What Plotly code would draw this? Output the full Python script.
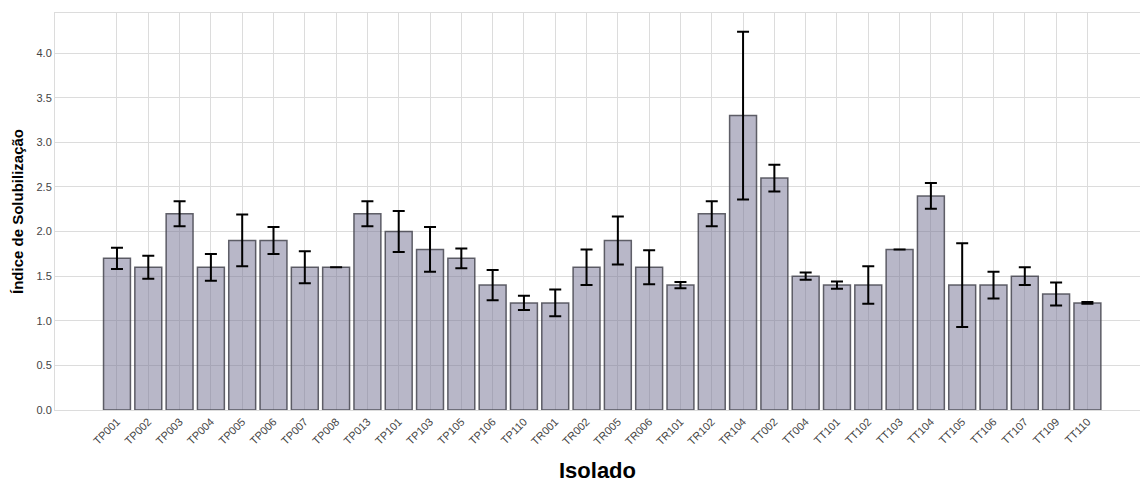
import plotly.graph_objects as go

categories = ["TP001", "TP002", "TP003", "TP004", "TP005", "TP006", "TP007", "TP008",
              "TP013", "TP101", "TP103", "TP105", "TP106", "TP110", "TR001", "TR002",
              "TR005", "TR006", "TR101", "TR102", "TR104", "TT002", "TT004", "TT101",
              "TT102", "TT103", "TT104", "TT105", "TT106", "TT107", "TT109", "TT110"]
means = [1.7, 1.6, 2.2, 1.6, 1.9, 1.9, 1.6, 1.6,
         2.2, 2.0, 1.8, 1.7, 1.4, 1.2, 1.2, 1.6,
         1.9, 1.6, 1.4, 2.2, 3.3, 2.6, 1.5, 1.4,
         1.4, 1.8, 2.4, 1.4, 1.4, 1.5, 1.3, 1.2]
errors = [0.12, 0.13, 0.14, 0.15, 0.29, 0.15, 0.18, 0.0,
          0.14, 0.23, 0.25, 0.11, 0.17, 0.08, 0.15, 0.20,
          0.27, 0.19, 0.035, 0.14, 0.94, 0.15, 0.04, 0.04,
          0.21, 0.0, 0.145, 0.47, 0.15, 0.10, 0.13, 0.01]
y_ticks = [0.0, 0.5, 1.0, 1.5, 2.0, 2.5, 3.0, 3.5, 4.0]

fig = go.Figure()
fig.add_trace(go.Bar(
    x=categories, y=means,
    width=0.86,
    marker=dict(color="rgba(113,111,145,0.5)", line=dict(color="rgba(70,70,80,0.85)", width=1.5)),
    error_y=dict(type="data", array=errors, visible=True, color="black", thickness=2, width=6),
))

fig.update_layout(
    width=1140, height=483,
    margin=dict(l=55, r=0, t=13, b=73),
    plot_bgcolor="white", paper_bgcolor="white",
    showlegend=False,
    font=dict(family="Liberation Sans, Arial, sans-serif", color="#444444"),
)
fig.update_xaxes(
    type="category", range=[-1.98, 32.68],
    tickangle=-45, tickfont=dict(size=11, color="#444444"),
    showgrid=True, gridcolor="#dcdcdc", gridwidth=1,
    showline=True, linecolor="#dcdcdc", mirror=True,
    ticks="", ticklen=0,
    title=dict(text="<b>Isolado</b>", font=dict(size=22, color="black"), standoff=21),
)
fig.update_yaxes(
    range=[0, 4.45], tickvals=y_ticks, tickformat=".1f",
    tickfont=dict(size=11, color="#444444"),
    showgrid=True, gridcolor="#dcdcdc", gridwidth=1,
    zeroline=False,
    showline=True, linecolor="#dcdcdc", mirror=True,
    title=dict(text="<b>Índice de Solubilização</b>", font=dict(size=15, color="black"), standoff=9),
)

fig.write_html("out.html")
